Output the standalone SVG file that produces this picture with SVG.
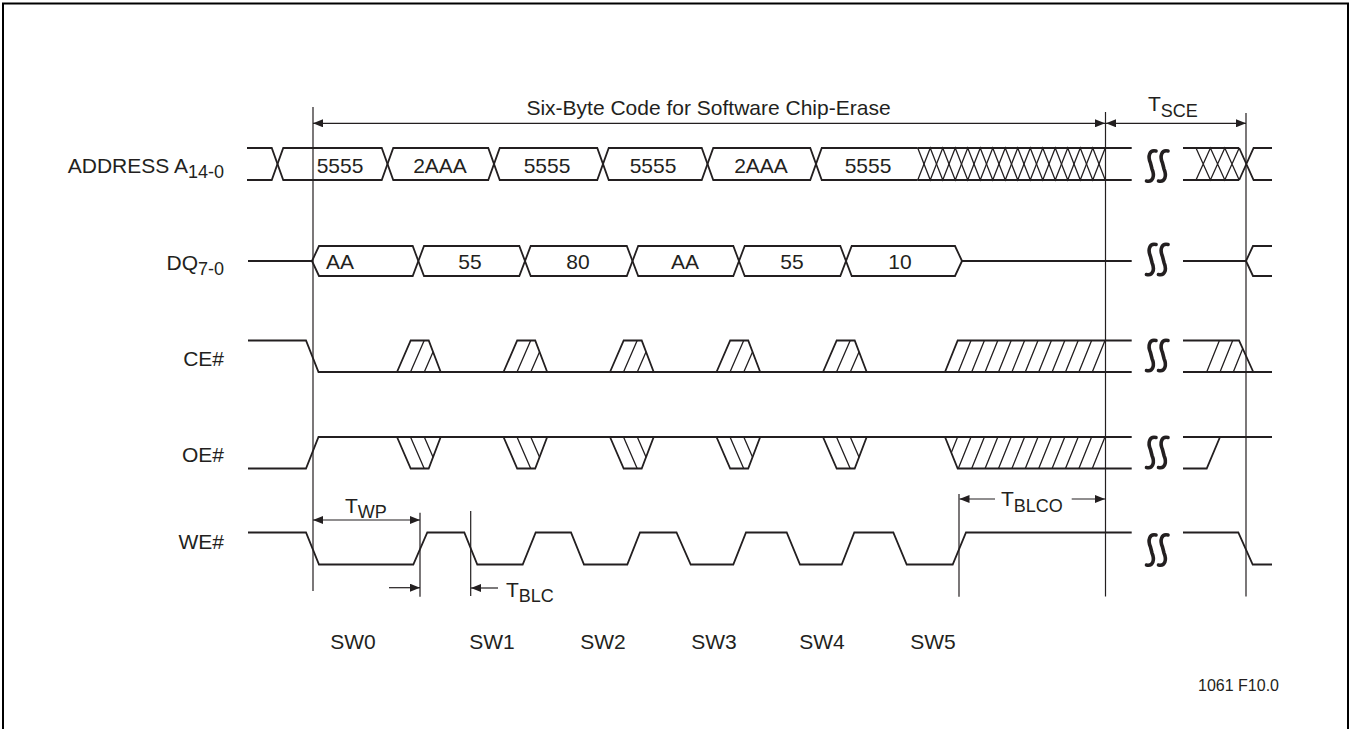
<svg xmlns="http://www.w3.org/2000/svg" xmlns:xlink="http://www.w3.org/1999/xlink" width="1351" height="729" viewBox="0 0 1351 729">
<style>
.sig{fill:none;stroke:#231f20;stroke-width:1.8;stroke-linejoin:miter}
.thin{fill:none;stroke:#231f20;stroke-width:1.2}
.hatch{fill:none;stroke:#231f20;stroke-width:1.3}
.brk{fill:none;stroke:#231f20;stroke-width:3.6;stroke-linecap:round}
.arr{fill:none;stroke:#231f20;stroke-width:1.2}
.lbl{font-family:"Liberation Sans",Arial,Helvetica,sans-serif;font-size:21px;fill:#231f20}
.sub{font-size:18px}
.small{font-family:"Liberation Sans",Arial,Helvetica,sans-serif;font-size:16px;fill:#231f20}
</style>
<defs>
<marker id="ah" viewBox="0 0 10 8" refX="10" refY="4" markerWidth="10" markerHeight="8" markerUnits="userSpaceOnUse" orient="auto-start-reverse">
<path d="M0,0 L10,4 L0,8 z" fill="#231f20"/>
</marker>
<g id="pulse">
<path class="sig" d="M0,31.5 L13.7,0 H31.7 L43.7,31.5"/>
<path class="hatch" d="M13.5,31.5 L27.2,0 M27.3,31.5 L36,11.4"/>
</g>
<g id="brk">
<path class="brk" d="M11,2 C4.5,0.5 2.5,7 5.5,14 L7,20 C10,27 8,33.5 1.5,32"/>
<path class="brk" d="M23,2 C16.5,0.5 14.5,7 17.5,14 L19,20 C22,27 20,33.5 13.5,32"/>
</g>
<clipPath id="ceClip"><polygon points="945,372 957.7,340.5 1105,340.5 1105,372"/></clipPath>
<clipPath id="oeClip"><polygon points="945,437 1105,437 1105,468.5 957.7,468.5"/></clipPath>
<clipPath id="ceClip2"><polygon points="1183,372 1183,340.5 1239,340.5 1253.3,372"/></clipPath>
</defs>

<rect width="1351" height="729" fill="#ffffff"/>
<path d="M3,729 V3.5 H1348 V729" fill="none" stroke="#000" stroke-width="2"/>

<g id="title">
<text class="lbl" x="708.5" y="115" text-anchor="middle">Six-Byte Code for Software Chip-Erase</text>
<text class="lbl" x="1148" y="111">T<tspan class="sub" dy="6">SCE</tspan></text>
</g>

<g id="address">
<text class="lbl" x="224" y="173.3" text-anchor="end">ADDRESS A<tspan class="sub" dy="5">14-0</tspan></text>
<path class="sig" d="M247,148 H271.75 L283.25,180 H381.75 L393.25,148 H488.25 L499.75,180 H597.25 L608.75,148 H701.75 L713.25,180 H810.25 L821.75,148 H917.75"/>
<path class="sig" d="M247,180 H271.75 L283.25,148 H381.75 L393.25,180 H488.25 L499.75,148 H597.25 L608.75,180 H701.75 L713.25,148 H810.25 L821.75,180 H917.75"/>
<path class="sig" d="M917.75,148 H1131.7 M917.75,180 H1131.7"/>
<path class="hatch" d="M917.75,148 L930.25,180 L942.75,148 L955.25,180 L967.75,148 L980.25,180 L992.75,148 L1005.25,180 L1017.75,148 L1030.25,180 L1042.75,148 L1055.25,180 L1067.75,148 L1080.25,180 L1092.75,148 L1105.25,180"/>
<path class="hatch" d="M917.75,180 L930.25,148 L942.75,180 L955.25,148 L967.75,180 L980.25,148 L992.75,180 L1005.25,148 L1017.75,180 L1030.25,148 L1042.75,180 L1055.25,148 L1067.75,180 L1080.25,148 L1092.75,180 L1105.25,148"/>
<path class="sig" d="M1183,148 H1239.2 M1183,180 H1239.2"/>
<path class="hatch" d="M1196,148 L1210.4,180 L1224.8,148 L1239.2,180 M1196,180 L1210.4,148 L1224.8,180 L1239.2,148"/>
<path class="sig" d="M1239.2,180 L1253.6,148 H1272 M1239.2,148 L1253.6,180 H1272"/>
<use xlink:href="#brk" href="#brk" x="1145" y="149"/>
<text class="lbl" x="340" y="172.7" text-anchor="middle">5555</text>
<text class="lbl" x="440" y="172.7" text-anchor="middle">2AAA</text>
<text class="lbl" x="547" y="172.7" text-anchor="middle">5555</text>
<text class="lbl" x="653" y="172.7" text-anchor="middle">5555</text>
<text class="lbl" x="761" y="172.7" text-anchor="middle">2AAA</text>
<text class="lbl" x="868" y="172.7" text-anchor="middle">5555</text>
</g>

<g id="dq">
<text class="lbl" x="224" y="269.5" text-anchor="end">DQ<tspan class="sub" dy="5">7-0</tspan></text>
<path class="sig" d="M248,261 H312"/>
<path class="sig" d="M312,261 L319,246 H412.7 L424,276 H519.3 L530.7,246 H626.8 L638.2,276 H733.3 L744.7,246 H840.3 L851.7,276 H955 L962,261 H1131.7"/>
<path class="sig" d="M312,261 L319,276 H412.7 L424,246 H519.3 L530.7,276 H626.8 L638.2,246 H733.3 L744.7,276 H840.3 L851.7,246 H955 L962,261"/>
<path class="sig" d="M1183,261 H1246 L1253,246 H1272 M1246,261 L1253,276 H1272"/>
<use xlink:href="#brk" href="#brk" x="1145" y="242.5"/>
<text class="lbl" x="340" y="268.5" text-anchor="middle">AA</text>
<text class="lbl" x="470" y="268.5" text-anchor="middle">55</text>
<text class="lbl" x="578" y="268.5" text-anchor="middle">80</text>
<text class="lbl" x="685" y="268.5" text-anchor="middle">AA</text>
<text class="lbl" x="792" y="268.5" text-anchor="middle">55</text>
<text class="lbl" x="900" y="268.5" text-anchor="middle">10</text>
</g>

<g id="ce">
<text class="lbl" x="224" y="365.7" text-anchor="end">CE#</text>
<path class="sig" d="M248,340.5 H306 L318.5,372 H1131.7"/>
<use xlink:href="#pulse" href="#pulse" transform="translate(397,340.5)"/>
<use xlink:href="#pulse" href="#pulse" transform="translate(503.5,340.5)"/>
<use xlink:href="#pulse" href="#pulse" transform="translate(610,340.5)"/>
<use xlink:href="#pulse" href="#pulse" transform="translate(716.5,340.5)"/>
<use xlink:href="#pulse" href="#pulse" transform="translate(823,340.5)"/>
<path class="sig" d="M945,372 L957.7,340.5 H1131.7"/>
<path class="hatch" clip-path="url(#ceClip)" d="M958.3,372 l12.7,-31.5 M971.7,372 l12.7,-31.5 M985.1,372 l12.7,-31.5 M998.5,372 l12.7,-31.5 M1011.9,372 l12.7,-31.5 M1025.3,372 l12.7,-31.5 M1038.7,372 l12.7,-31.5 M1052.1,372 l12.7,-31.5 M1065.5,372 l12.7,-31.5 M1078.9,372 l12.7,-31.5 M1092.3,372 l12.7,-31.5"/>
<path class="sig" d="M1183,340.5 H1239 L1253.3,372 M1183,372 H1272"/>
<path class="hatch" clip-path="url(#ceClip2)" d="M1206.7,372 l12.7,-31.5 M1220,372 l12.7,-31.5 M1233.3,372 l12.7,-31.5"/>
<use xlink:href="#brk" href="#brk" x="1145" y="338.5"/>
</g>

<g id="oe">
<text class="lbl" x="224" y="462.3" text-anchor="end">OE#</text>
<path class="sig" d="M248,468.5 H306 L318.5,437 H1131.7"/>
<use xlink:href="#pulse" href="#pulse" transform="translate(397,468.5) scale(1,-1)"/>
<use xlink:href="#pulse" href="#pulse" transform="translate(503.5,468.5) scale(1,-1)"/>
<use xlink:href="#pulse" href="#pulse" transform="translate(610,468.5) scale(1,-1)"/>
<use xlink:href="#pulse" href="#pulse" transform="translate(716.5,468.5) scale(1,-1)"/>
<use xlink:href="#pulse" href="#pulse" transform="translate(823,468.5) scale(1,-1)"/>
<path class="sig" d="M945,437 L957.7,468.5 H1131.7"/>
<path class="hatch" clip-path="url(#oeClip)" d="M944.9,468.5 l12.7,-31.5 M958.3,468.5 l12.7,-31.5 M971.7,468.5 l12.7,-31.5 M985.1,468.5 l12.7,-31.5 M998.5,468.5 l12.7,-31.5 M1011.9,468.5 l12.7,-31.5 M1025.3,468.5 l12.7,-31.5 M1038.7,468.5 l12.7,-31.5 M1052.1,468.5 l12.7,-31.5 M1065.5,468.5 l12.7,-31.5 M1078.9,468.5 l12.7,-31.5 M1092.3,468.5 l12.7,-31.5"/>
<path class="sig" d="M1183,468.5 H1206.7 L1220,437 M1183,437 H1272"/>
<use xlink:href="#brk" href="#brk" x="1145" y="435.5"/>
</g>

<g id="we">
<text class="lbl" x="224" y="549" text-anchor="end">WE#</text>
<path class="sig" d="M248,532.5 H306 L319,564.5 H413.3 L427.3,532.5 H464.3 L477.3,564.5 H522.7 L535.7,532.5 H571 L584,564.5 H627.3 L640,532.5 H676.5 L690.7,564.5 H733.3 L746,532.5 H786.7 L800,564.5 H841.7 L854.3,532.5 H893.3 L906.7,564.5 H952.7 L966,532.5 H1131.7"/>
<path class="sig" d="M1183,532.5 H1238.3 L1252.7,564.5 H1272"/>
<use xlink:href="#brk" href="#brk" x="1145" y="533"/>
</g>

<g id="connectors">
<path class="thin" d="M313,107 V591 M420,512.7 V596.7 M470.7,511 V596 M959,494 V596.7 M1105.5,112 V596.5 M1246,113 V596.5"/>
<path class="arr" d="M313,123.3 H1105" marker-start="url(#ah)" marker-end="url(#ah)"/>
<path class="arr" d="M1106,123.3 H1246" marker-start="url(#ah)" marker-end="url(#ah)"/>
<path class="arr" d="M313,520 H420" marker-start="url(#ah)" marker-end="url(#ah)"/>
<path class="arr" d="M389,587.7 H420" marker-end="url(#ah)"/>
<path class="arr" d="M498,588 H471" marker-end="url(#ah)"/>
<path class="arr" d="M995,499 H959.5" marker-end="url(#ah)"/>
<path class="arr" d="M1071.7,499 H1105" marker-end="url(#ah)"/>
</g>

<g id="timing-labels">
<text class="lbl" x="345" y="512.7">T<tspan class="sub" dy="5.6">WP</tspan></text>
<text class="lbl" x="506" y="596.7">T<tspan class="sub" dy="5">BLC</tspan></text>
<text class="lbl" x="1001" y="506">T<tspan class="sub" dy="5.7">BLCO</tspan></text>
</g>

<g id="sw-labels">
<text class="lbl" x="353" y="649" text-anchor="middle">SW0</text>
<text class="lbl" x="492" y="649" text-anchor="middle">SW1</text>
<text class="lbl" x="603" y="649" text-anchor="middle">SW2</text>
<text class="lbl" x="714" y="649" text-anchor="middle">SW3</text>
<text class="lbl" x="822" y="649" text-anchor="middle">SW4</text>
<text class="lbl" x="933" y="649" text-anchor="middle">SW5</text>
</g>

<text class="small" x="1279" y="691" text-anchor="end">1061 F10.0</text>
</svg>
